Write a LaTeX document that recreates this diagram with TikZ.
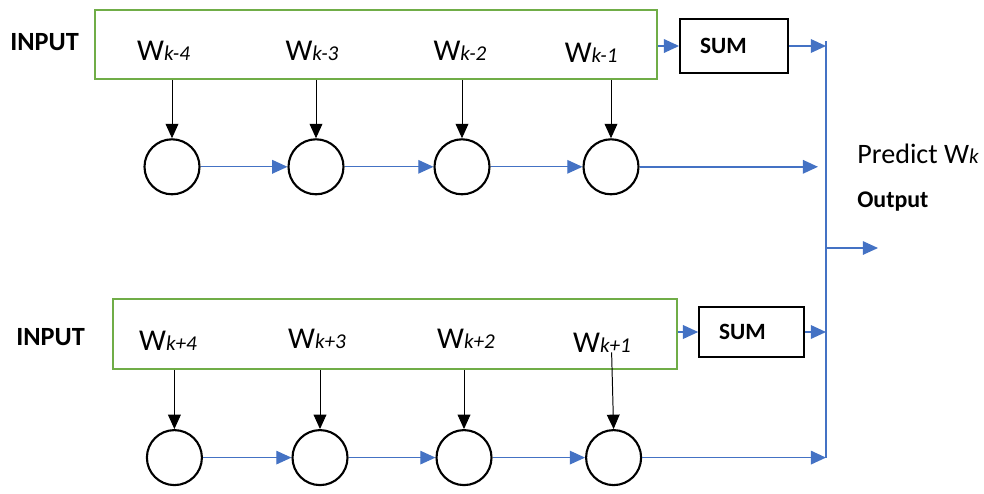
\documentclass[tikz,border=0pt]{standalone}
\usepackage{fontspec}
\setmainfont{Carlito}
\usetikzlibrary{arrows.meta,positioning}
\definecolor{flowblue}{HTML}{4472C4}
\definecolor{boxgreen}{HTML}{70AD47}
\tikzset{
  inbox/.style  = {draw=boxgreen, line width=1.4pt, minimum width=14.05cm,
                   minimum height=1.725cm},
  sumbox/.style = {draw, line width=1.3pt, inner xsep=0.5cm, align=left,
                   font=\bfseries\fontsize{16.6}{18}\selectfont},
  cell/.style   = {draw, line width=1.5pt, circle, inner sep=0pt,
                   minimum size=1.375cm},
  feed/.style   = {-{Triangle[length=3.6mm,width=3.2mm]}, line width=0.7pt},
  flow/.style   = {-{Triangle[length=3.8mm,width=3.4mm]}, flowblue, line width=0.8pt},
  wlab/.style   = {anchor=base, inner sep=0pt, font=\fontsize{21.5}{24}\selectfont},
  tag/.style    = {anchor=base west, inner sep=0pt,
                   font=\bfseries\fontsize{18.7}{20}\selectfont},
}
\newcommand{\wsub}[1]{W{\itshape\fontsize{15}{17}\selectfont #1}}

\begin{document}
\begin{tikzpicture}[x=1cm, y=1cm]
\useasboundingbox (0,0) rectangle (24.6,-12.325);
% ---------------- upper branch (past values) ----------------
\node[tag] (inTop) at (0.25,-1.25) {INPUT};
\node[inbox] (boxT) at (9.4,-1.1125) {};
\node[wlab] (lT1) at (4.09,-1.5) {\wsub{k-4}};
\node[wlab] (lT2) at (7.8,-1.5) {\wsub{k-3}};
\node[wlab] (lT3) at (11.5,-1.5) {\wsub{k-2}};
\node[wlab] (lT4) at (14.78,-1.55) {\wsub{k-1}};
\node[sumbox, minimum width=2.7cm, minimum height=1.35cm, text width=1.7cm]
   (sumT) at (18.35,-1.15) {SUM};
\node[cell] (cT1) at (4.3,-4.17) {};
\node[cell] (cT2) at (7.9,-4.17) {};
\node[cell] (cT3) at (11.55,-4.17) {};
\node[cell] (cT4) at (15.275,-4.17) {};
\draw[feed] (cT1 |- boxT.south) -- (cT1.north);
\draw[feed] (cT2 |- boxT.south) -- (cT2.north);
\draw[feed] (cT3 |- boxT.south) -- (cT3.north);
\draw[feed] (cT4 |- boxT.south) -- (cT4.north);
\draw[flow] (cT1) -- (cT2);
\draw[flow] (cT2) -- (cT3);
\draw[flow] (cT3) -- (cT4);
% ---------------- lower branch (future values) ----------------
\node[tag] (inBot) at (0.4,-8.625) {INPUT};
\node[inbox, minimum width=14.1cm, minimum height=1.75cm] (boxB) at (9.875,-8.35) {};
\node[wlab] (lB1) at (4.2,-8.75) {\wsub{k+4}};
\node[wlab] (lB2) at (7.925,-8.7) {\wsub{k+3}};
\node[wlab] (lB3) at (11.65,-8.72) {\wsub{k+2}};
\node[wlab] (lB4) at (15.05,-8.8) {\wsub{k+1}};
\node[sumbox, minimum width=2.625cm, minimum height=1.25cm, text width=1.625cm]
   (sumB) at (18.79,-8.3) {SUM};
\node[cell] (cB1) at (4.36,-11.44) {};
\node[cell] (cB2) at (8.0,-11.44) {};
\node[cell] (cB3) at (11.6,-11.44) {};
\node[cell] (cB4) at (15.34,-11.44) {};
\draw[feed] (cB1 |- boxB.south) -- (cB1.north);
\draw[feed] (cB2 |- boxB.south) -- (cB2.north);
\draw[feed] (cB3 |- boxB.south) -- (cB3.north);
\draw[feed] ([xshift=-0.05cm]cB4 |- lB4.south) -- (cB4.north);
\draw[flow] (cB1) -- (cB2);
\draw[flow] (cB2) -- (cB3);
\draw[flow] (cB3) -- (cB4);
% ---------------- collecting bus and output ----------------
\coordinate (busT) at (20.65,-1.025);
\coordinate (busB) at (20.65,-11.44);
\coordinate (out) at (21.95,-6.2);
\draw[flowblue, line width=1.2pt] (busT) -- (busB);
\draw[flow, line width=1.2pt] (boxT.east |- sumT) -- (sumT.west);
\draw[flow, line width=1.2pt] (sumT.east) -- (sumT.east -| busT);
\draw[flow, line width=1.2pt] (boxB.east |- sumB) -- (sumB.west);
\draw[flow, line width=1.2pt] (sumB.east) -- (sumB.east -| busT);
\draw[flow, line width=1.2pt] (cT4.east) -- ([xshift=-0.2cm]cT4.east -| busT);
\draw[flow, line width=1.2pt] (cB4.east) -- (cB4.east -| busT);
\draw[flow] (out -| busT) -- (out);
\node[anchor=base west, inner sep=0pt, font=\fontsize{20}{22}\selectfont]
   (pred) at (21.425,-4.075) {Predict \wsub{k}};
\node[tag, font=\bfseries\fontsize{17}{19}\selectfont] (outlab) at (21.425,-5.175) {Output};
\end{tikzpicture}
\end{document}
